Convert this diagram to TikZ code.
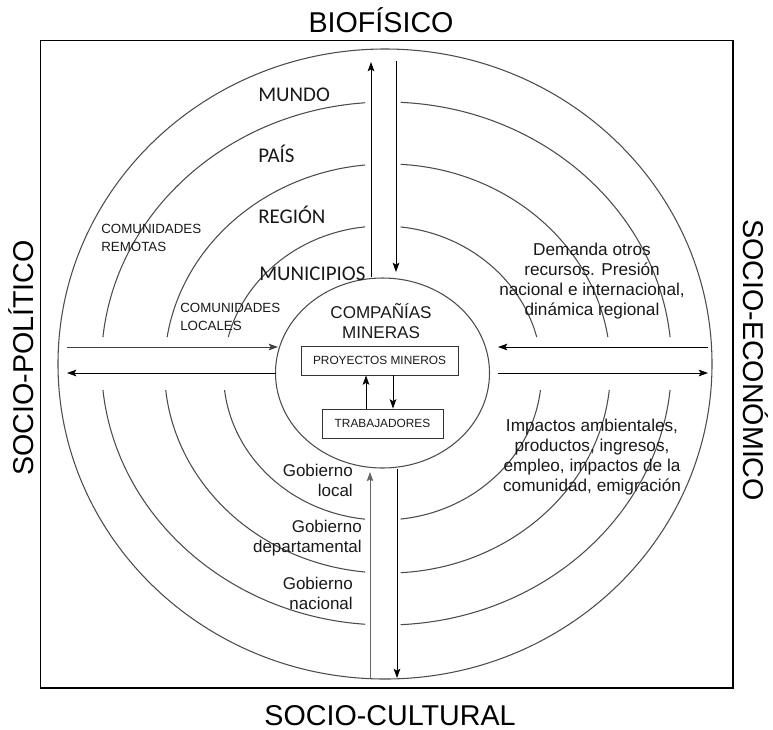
\documentclass[tikz,border=0pt]{standalone}
\usepackage{fontspec}
\setmainfont{Liberation Sans}
\newfontfamily\calfont{Carlito}
\usetikzlibrary{arrows.meta}
\begin{document}
\begin{tikzpicture}[x=0.75pt,y=-0.75pt,
  ring/.style={draw=black!70, line width=0.8pt},
  flow/.style={draw=black, line width=0.7pt, -{Stealth[length=7pt,width=5pt,inset=1.5pt]}},
  bigtxt/.style={font=\fontsize{21.5}{24}\selectfont, text=black, inner sep=0pt, anchor=base},
  lvl/.style={font=\calfont\fontsize{15.7}{18}\selectfont, text=black!90, inner sep=0pt, anchor=base west},
  comtxt/.style={font=\fontsize{10}{13.2}\selectfont, text=black!90, inner sep=0pt, align=left, anchor=west},
  desc/.style={font=\fontsize{12.9}{14.8}\selectfont, text=black!90, inner sep=0pt, align=center},
  gob/.style={font=\fontsize{12.75}{15}\selectfont, text=black!90, inner sep=0pt, align=right, anchor=east},
  boxn/.style={draw=black!80, line width=0.7pt, font=\fontsize{8.9}{10}\selectfont, text=black!90, inner sep=0pt, minimum height=21.75pt}
]
\useasboundingbox (0,0) rectangle (773,729);
% frame
\draw[line width=1pt] (40.5,40.5) rectangle (733,688);
% outer and inner ellipses
\draw[ring] (385,364) ellipse [x radius=245.25pt, y radius=236.25pt];
\draw[ring] (382.5,373) ellipse [x radius=80.25pt, y radius=71.25pt];
% intermediate rings with gaps
\begin{scope}[even odd rule]
\clip (0,0) rectangle (773,729) (365,0) rectangle (400.5,729) (0,337) rectangle (773,390);
\draw[ring] (382.5,373) ellipse [x radius=119.25pt, y radius=110.25pt];
\draw[ring] (387.5,368.5) ellipse [x radius=167.25pt, y radius=153.4pt];
\draw[ring] (386.5,363.5) ellipse [x radius=213.75pt, y radius=196.1pt];
\end{scope}
% arrow end points
\coordinate (tUa) at (371,277); \coordinate (tUb) at (371,62);
\coordinate (tDa) at (396,61);  \coordinate (tDb) at (396,272);
\coordinate (bUa) at (370,679); \coordinate (bUb) at (370,472);
\coordinate (bDa) at (397,469); \coordinate (bDb) at (397,678);
\coordinate (lRa) at (67,347);  \coordinate (lRb) at (278,347);
\coordinate (lLa) at (276,373); \coordinate (lLb) at (67,373);
\coordinate (rLa) at (708,347); \coordinate (rLb) at (498,347);
\coordinate (rRa) at (498,373); \coordinate (rRb) at (708,373);
\draw[flow] (tUa) -- (tUb);
\draw[flow] (tDa) -- (tDb);
\draw[flow, draw=black!60] (bUa) -- (bUb);
\draw[flow] (bDa) -- (bDb);
\draw[flow, draw=black!75] (lRa) -- (lRb);
\draw[flow] (lLa) -- (lLb);
\draw[flow] (rLa) -- (rLb);
\draw[flow] (rRa) -- (rRb);
% central boxes
\node[boxn, minimum width=117.75pt] (proy) at (379.5,360.5) {PROYECTOS MINEROS};
\node[boxn, minimum width=90.75pt] (trab) at (382.5,423.5) {TRABAJADORES};
\draw[flow] (trab.north -| 366,0) -- (proy.south -| 366,0);
\draw[flow] (proy.south -| 393,0) -- (trab.north -| 393,0);
\node[desc, font=\fontsize{12.8}{14.6}\selectfont] (comp) at (381,321) {COMPAÑÍAS\\MINERAS};
% level labels
\node[lvl] (mundo) at (258,101) {MUNDO};
\node[lvl] (pais) at (258,162) {PAÍS};
\node[lvl] (region) at (258,223) {REGIÓN};
\node[lvl] (muni) at (259,280) {MUNICIPIOS};
\node[comtxt] (crem) at (101,238) {COMUNIDADES\\REMOTAS};
\node[comtxt] (cloc) at (180,317) {COMUNIDADES\\LOCALES};
\node[desc] (dem) at (592,281) {Demanda otros\\recursos. Presión\\nacional e internacional,\\dinámica regional};
\node[desc] (imp) at (592,457) {Impactos ambientales,\\productos, ingresos,\\empleo, impactos de la\\comunidad, emigración};
\node[gob] (gl) at (353,480) {Gobierno\\local};
\node[gob] (gd) at (362,538) {Gobierno\\departamental};
\node[gob] (gn) at (353,593) {Gobierno\\nacional};
% side labels
\node[bigtxt] (bio) at (381,32) {BIOFÍSICO};
\node[bigtxt] (cult) at (390,725) {SOCIO-CULTURAL};
\node[bigtxt, rotate=90] (pol) at (33,358) {SOCIO-POLÍTICO};
\node[bigtxt, rotate=-90] (eco) at (743,360) {SOCIO-ECONÓMICO};
\end{tikzpicture}
\end{document}
